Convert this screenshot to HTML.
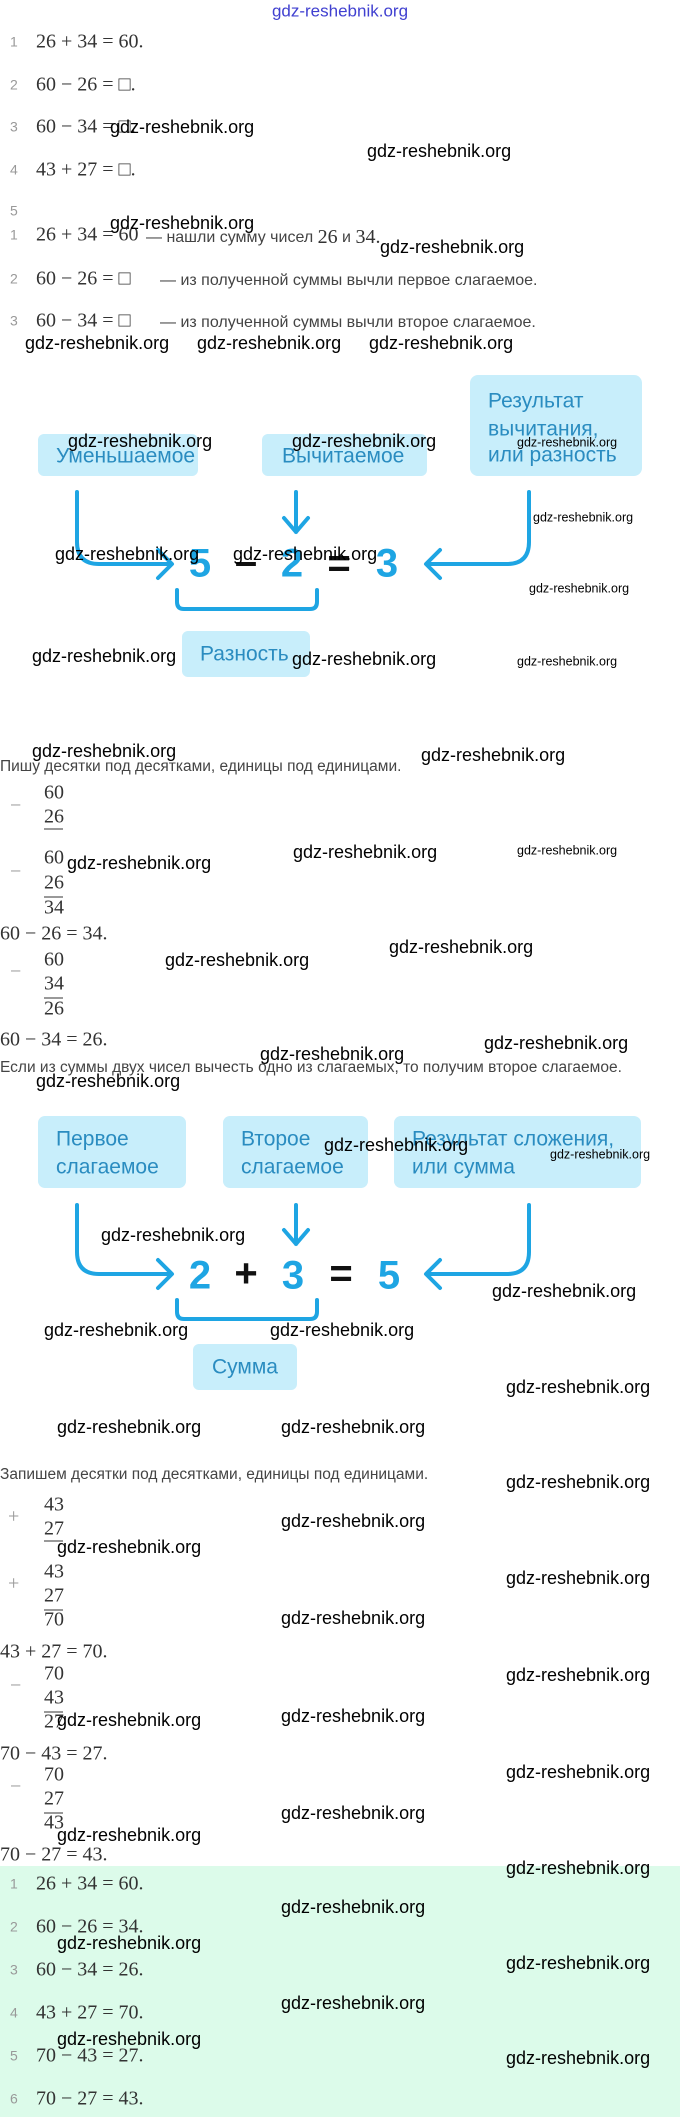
<!DOCTYPE html>
<html><head><meta charset="utf-8">
<style>
html,body{margin:0;padding:0;background:#fff;}
svg{display:block;}
.m{font-family:"Liberation Serif",serif;font-size:20px;fill:#333;}
.n{font-family:"Liberation Sans",sans-serif;font-size:14px;fill:#999;}
.s{font-family:"Liberation Sans","DejaVu Sans",sans-serif;font-size:16px;fill:#444;}
.w{font-family:"Liberation Sans Narrow","Liberation Sans",sans-serif;font-size:18px;fill:#000;}
.ws{font-family:"Liberation Sans Narrow","Liberation Sans",sans-serif;font-size:12.5px;fill:#000;}
.b{font-family:"Liberation Sans","DejaVu Sans",sans-serif;font-size:21px;fill:#2a8cc0;}
.e{font-family:"Liberation Sans",sans-serif;font-size:40px;font-weight:bold;fill:#1ea5e3;}
.k{font-family:"Liberation Sans",sans-serif;font-size:40px;font-weight:bold;fill:#111;}
.box{fill:#c8eefb;}
.ar{fill:none;stroke:#1ea5e3;stroke-width:4;stroke-linecap:round;stroke-linejoin:round;}
</style></head>
<body>
<svg width="680" height="2117" viewBox="0 0 680 2117" xmlns="http://www.w3.org/2000/svg" dominant-baseline="middle">
<rect x="0" y="1866" width="680" height="251" fill="#dcfbea"/>
<text x="340" y="12" text-anchor="middle" font-family="Liberation Sans Narrow, Liberation Sans, sans-serif" font-size="17" fill="#4040d0">gdz-reshebnik.org</text>

<!-- list 1 -->
<text class="n" x="10" y="43">1</text><text class="m" x="36" y="43">26 + 34 = 60.</text>
<text class="n" x="10" y="86">2</text><text class="m" x="36" y="86">60 − 26 = □.</text>
<text class="n" x="10" y="128">3</text><text class="m" x="36" y="128">60 − 34 = □.</text>
<text class="n" x="10" y="171">4</text><text class="m" x="36" y="171">43 + 27 = □.</text>
<text class="n" x="10" y="212">5</text>
<text class="w" x="110" y="128">gdz-reshebnik.org</text>
<text class="w" x="367" y="152">gdz-reshebnik.org</text>

<!-- list 2 -->
<text class="n" x="10" y="236">1</text><text class="m" x="36" y="236">26 + 34 = 60</text><text class="s" x="146" y="238">— нашли сумму чисел <tspan class="m" style="font-size:20px">26</tspan> и <tspan class="m" style="font-size:20px">34.</tspan></text>
<text class="n" x="10" y="280">2</text><text class="m" x="36" y="280">60 − 26 = □</text><text class="s" x="160" y="281">— из полученной суммы вычли первое слагаемое.</text>
<text class="n" x="10" y="322">3</text><text class="m" x="36" y="322">60 − 34 = □</text><text class="s" x="160" y="323">— из полученной суммы вычли второе слагаемое.</text>
<text class="w" x="110" y="224">gdz-reshebnik.org</text>
<text class="w" x="380" y="248">gdz-reshebnik.org</text>
<text class="w" x="25" y="344">gdz-reshebnik.org</text>
<text class="w" x="197" y="344">gdz-reshebnik.org</text>
<text class="w" x="369" y="344">gdz-reshebnik.org</text>

<!-- diagram 1 -->
<rect class="box" x="38" y="434" width="160" height="42" rx="6"/>
<rect class="box" x="262" y="434" width="165" height="42" rx="6"/>
<rect class="box" x="470" y="375" width="172" height="101" rx="8"/>
<text class="b" x="56" y="457">Уменьшаемое</text>
<text class="b" x="282" y="457">Вычитаемое</text>
<text class="b" x="488" y="402">Результат</text>
<text class="b" x="488" y="430">вычитания,</text>
<text class="b" x="488" y="456">или разность</text>
<path class="ar" d="M77 492 V542 Q77 564 99 564 H170 M158 550 L172 564 L158 578"/>
<path class="ar" d="M296 492 V532 M284 518 L296 532 L308 518"/>
<path class="ar" d="M529 492 V542 Q529 564 507 564 H428 M440 550 L426 564 L440 578"/>
<text class="e" x="200" y="566" text-anchor="middle">5</text>
<text class="k" x="246" y="564" text-anchor="middle">–</text>
<text class="e" x="292" y="566" text-anchor="middle">2</text>
<text class="k" x="339" y="566" text-anchor="middle">=</text>
<text class="e" x="387" y="566" text-anchor="middle">3</text>
<path class="ar" d="M177 590 V602 Q177 609 184 609 H310 Q317 609 317 602 V590"/>
<rect class="box" x="182" y="631" width="128" height="46" rx="6"/>
<text class="b" x="200" y="655">Разность</text>
<text class="w" x="55" y="555">gdz-reshebnik.org</text>
<text class="w" x="233" y="555">gdz-reshebnik.org</text>
<text class="w" x="68" y="442">gdz-reshebnik.org</text>
<text class="w" x="292" y="442">gdz-reshebnik.org</text>
<text class="ws" x="517" y="443">gdz-reshebnik.org</text>
<text class="ws" x="533" y="518">gdz-reshebnik.org</text>
<text class="ws" x="529" y="589">gdz-reshebnik.org</text>
<text class="ws" x="517" y="662">gdz-reshebnik.org</text>
<text class="w" x="32" y="657">gdz-reshebnik.org</text>
<text class="w" x="292" y="660">gdz-reshebnik.org</text>

<!-- column subtraction -->
<text class="s" x="0" y="767" style="font-size:15.5px">Пишу десятки под десятками, единицы под единицами.</text>
<text class="w" x="32" y="752">gdz-reshebnik.org</text>
<text class="w" x="421" y="756">gdz-reshebnik.org</text>
<text class="m" x="10" y="807" style="fill:#999">−</text>
<text class="m" x="44" y="794">60</text>
<text class="m" x="44" y="818">26</text><line x1="44" y1="829" x2="63" y2="829" stroke="#333" stroke-width="1"/>
<text class="m" x="10" y="873" style="fill:#999">−</text>
<text class="m" x="44" y="859">60</text>
<text class="m" x="44" y="884">26</text>
<line x1="44" y1="897" x2="63" y2="897" stroke="#333" stroke-width="1"/>
<text class="m" x="44" y="909">34</text>
<text class="w" x="67" y="864">gdz-reshebnik.org</text>
<text class="w" x="293" y="853">gdz-reshebnik.org</text>
<text class="ws" x="517" y="851">gdz-reshebnik.org</text>
<text class="m" x="0" y="935">60 − 26 = 34.</text>
<text class="m" x="10" y="973" style="fill:#999">−</text>
<text class="m" x="44" y="961">60</text>
<text class="m" x="44" y="985">34</text>
<line x1="44" y1="998" x2="63" y2="998" stroke="#333" stroke-width="1"/>
<text class="m" x="44" y="1010">26</text>
<text class="w" x="165" y="961">gdz-reshebnik.org</text>
<text class="w" x="389" y="948">gdz-reshebnik.org</text>
<text class="m" x="0" y="1041">60 − 34 = 26.</text>
<text class="w" x="260" y="1055">gdz-reshebnik.org</text>
<text class="w" x="484" y="1044">gdz-reshebnik.org</text>
<text class="s" x="0" y="1068" style="font-size:15.5px">Если из суммы двух чисел вычесть одно из слагаемых, то получим второе слагаемое.</text>

<!-- diagram 2 -->
<rect class="box" x="38" y="1116" width="148" height="72" rx="7"/>
<rect class="box" x="223" y="1116" width="145" height="72" rx="7"/>
<rect class="box" x="394" y="1116" width="247" height="72" rx="7"/>
<text class="b" x="56" y="1140">Первое</text>
<text class="b" x="56" y="1168">слагаемое</text>
<text class="b" x="241" y="1140">Второе</text>
<text class="b" x="241" y="1168">слагаемое</text>
<text class="b" x="412" y="1140">Результат сложения,</text>
<text class="b" x="412" y="1168">или сумма</text>
<path class="ar" d="M77 1205 V1252 Q77 1274 99 1274 H170 M158 1260 L172 1274 L158 1288"/>
<path class="ar" d="M296 1205 V1244 M284 1230 L296 1244 L308 1230"/>
<path class="ar" d="M529 1205 V1252 Q529 1274 507 1274 H428 M440 1260 L426 1274 L440 1288"/>
<text class="e" x="200" y="1278" text-anchor="middle">2</text>
<text class="k" x="246" y="1276" text-anchor="middle">+</text>
<text class="e" x="293" y="1278" text-anchor="middle">3</text>
<text class="k" x="341" y="1276" text-anchor="middle">=</text>
<text class="e" x="389" y="1278" text-anchor="middle">5</text>
<path class="ar" d="M177 1300 V1312 Q177 1319 184 1319 H310 Q317 1319 317 1312 V1300"/>
<rect class="box" x="193" y="1344" width="104" height="46" rx="6"/>
<text class="b" x="212" y="1368">Сумма</text>
<text class="w" x="36" y="1082">gdz-reshebnik.org</text>
<text class="w" x="324" y="1146">gdz-reshebnik.org</text>
<text class="ws" x="550" y="1155">gdz-reshebnik.org</text>
<text class="w" x="101" y="1236">gdz-reshebnik.org</text>
<text class="w" x="492" y="1292">gdz-reshebnik.org</text>
<text class="w" x="44" y="1331">gdz-reshebnik.org</text>
<text class="w" x="270" y="1331">gdz-reshebnik.org</text>
<text class="w" x="506" y="1388">gdz-reshebnik.org</text>
<text class="w" x="57" y="1428">gdz-reshebnik.org</text>
<text class="w" x="281" y="1428">gdz-reshebnik.org</text>

<!-- column addition -->
<text class="s" x="0" y="1475" style="font-size:15.5px">Запишем десятки под десятками, единицы под единицами.</text>
<text class="w" x="506" y="1483">gdz-reshebnik.org</text>
<text class="m" x="8" y="1518" style="fill:#999">+</text>
<text class="m" x="44" y="1506">43</text>
<text class="m" x="44" y="1530">27</text><line x1="44" y1="1541" x2="63" y2="1541" stroke="#333" stroke-width="1"/>
<text class="w" x="281" y="1522">gdz-reshebnik.org</text>
<text class="w" x="57" y="1548">gdz-reshebnik.org</text>
<text class="m" x="8" y="1585" style="fill:#999">+</text>
<text class="m" x="44" y="1573">43</text>
<text class="m" x="44" y="1597">27</text>
<line x1="44" y1="1610" x2="63" y2="1610" stroke="#333" stroke-width="1"/>
<text class="m" x="44" y="1621">70</text>
<text class="w" x="506" y="1579">gdz-reshebnik.org</text>
<text class="w" x="281" y="1619">gdz-reshebnik.org</text>
<text class="m" x="0" y="1653">43 + 27 = 70.</text>
<text class="m" x="10" y="1687" style="fill:#999">−</text>
<text class="m" x="44" y="1675">70</text>
<text class="m" x="44" y="1699">43</text>
<line x1="44" y1="1712" x2="63" y2="1712" stroke="#333" stroke-width="1"/>
<text class="m" x="44" y="1723">27</text>
<text class="w" x="506" y="1676">gdz-reshebnik.org</text>
<text class="w" x="57" y="1721">gdz-reshebnik.org</text>
<text class="w" x="281" y="1717">gdz-reshebnik.org</text>
<text class="m" x="0" y="1755">70 − 43 = 27.</text>
<text class="m" x="10" y="1788" style="fill:#999">−</text>
<text class="m" x="44" y="1776">70</text>
<text class="m" x="44" y="1800">27</text>
<line x1="44" y1="1813" x2="63" y2="1813" stroke="#333" stroke-width="1"/>
<text class="m" x="44" y="1824">43</text>
<text class="w" x="506" y="1773">gdz-reshebnik.org</text>
<text class="w" x="281" y="1814">gdz-reshebnik.org</text>
<text class="w" x="57" y="1836">gdz-reshebnik.org</text>
<text class="m" x="0" y="1856">70 − 27 = 43.</text>

<!-- final list -->
<text class="n" x="10" y="1885">1</text><text class="m" x="36" y="1885">26 + 34 = 60.</text>
<text class="n" x="10" y="1928">2</text><text class="m" x="36" y="1928">60 − 26 = 34.</text>
<text class="n" x="10" y="1971">3</text><text class="m" x="36" y="1971">60 − 34 = 26.</text>
<text class="n" x="10" y="2014">4</text><text class="m" x="36" y="2014">43 + 27 = 70.</text>
<text class="n" x="10" y="2057">5</text><text class="m" x="36" y="2057">70 − 43 = 27.</text>
<text class="n" x="10" y="2100">6</text><text class="m" x="36" y="2100">70 − 27 = 43.</text>
<text class="w" x="506" y="1869">gdz-reshebnik.org</text>
<text class="w" x="281" y="1908">gdz-reshebnik.org</text>
<text class="w" x="57" y="1944">gdz-reshebnik.org</text>
<text class="w" x="506" y="1964">gdz-reshebnik.org</text>
<text class="w" x="281" y="2004">gdz-reshebnik.org</text>
<text class="w" x="57" y="2040">gdz-reshebnik.org</text>
<text class="w" x="506" y="2059">gdz-reshebnik.org</text>
</svg>
</body></html>
